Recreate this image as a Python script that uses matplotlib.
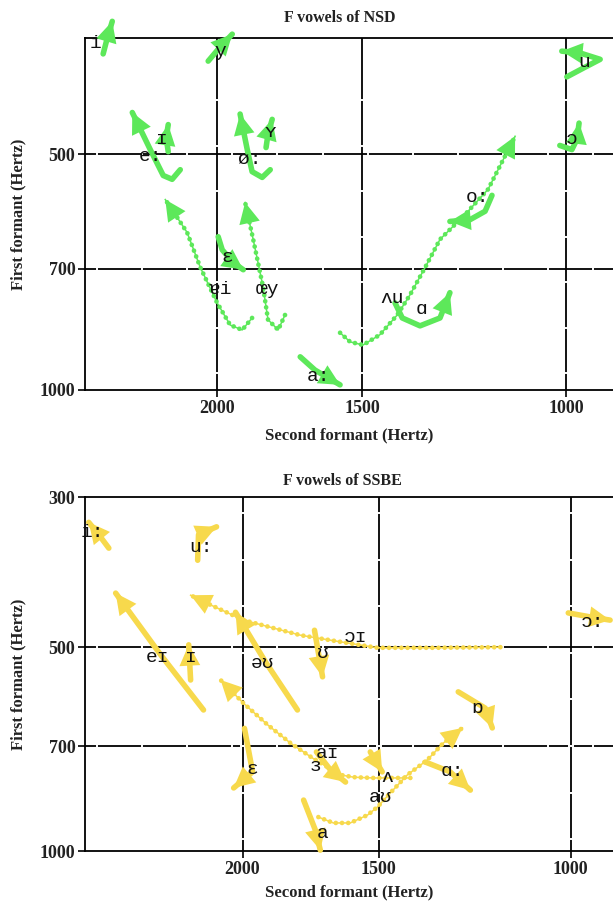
import matplotlib
matplotlib.use("Agg")
import matplotlib.pyplot as plt
import matplotlib.transforms as mtransforms
from matplotlib.ticker import NullLocator
import numpy as np

# ---------------------------------------------------------------------------
# Formant tracks (F2, F1 in Hz), one list pair per vowel
# ---------------------------------------------------------------------------
F2_TICKS = [2000, 1500, 1000]
NSD_F1_TICKS = [500, 700, 1000]
SSBE_F1_TICKS = [300, 500, 700, 1000]

# NSD ------------------------------------------------------------------------
nsd_i_f2, nsd_i_f1 = [2508, 2490, 2463], [372, 357, 338]
nsd_y_f2, nsd_y_f1 = [2036, 1996, 1941], [380, 367, 351]
nsd_u_f2, nsd_u_f1 = [999, 964, 935, 973, 1009], [398, 387, 378, 371, 369]
nsd_o_open_f2, nsd_o_open_f1 = [1013, 989, 979, 975], [487, 493, 478, 456]
nsd_e_f2, nsd_e_f1 = [2152, 2187, 2226, 2284, 2367], [523, 538, 532, 493, 442]
nsd_I_f2, nsd_I_f1 = [2204, 2213, 2204], [496, 476, 458]
nsd_oe_f2, nsd_oe_f1 = [1800, 1829, 1866, 1884, 1911], [523, 535, 526, 493, 444]
nsd_Y_f2, nsd_Y_f1 = [1815, 1808, 1793], [490, 471, 451]
nsd_ai_f2 = [1866, 1903, 1949, 2000, 2069, 2123, 2217]
nsd_ai_f1 = [809, 838, 826, 774, 696, 629, 571]
nsd_oey_f2 = [1748, 1772, 1808, 1826, 1862, 1892]
nsd_oey_f1 = [802, 838, 813, 738, 642, 576]
nsd_eps_f2, nsd_eps_f1 = [1996, 1980, 1938, 1899], [637, 662, 687, 702]
nsd_au_f2 = [1567, 1536, 1497, 1448, 1399, 1364, 1324, 1285, 1223, 1168, 1107]
nsd_au_f1 = [845, 868, 876, 850, 802, 756, 698, 642, 597, 554, 474]
nsd_oo_f2, nsd_oo_f1 = [1159, 1175, 1211, 1260], [564, 591, 606, 609]
nsd_A_f2, nsd_A_f1 = [1405, 1385, 1337, 1285, 1260], [774, 809, 828, 809, 751]
nsd_a_f2, nsd_a_f1 = [1696, 1647, 1567], [907, 943, 985]

nsd_labels = ["i", "y", "u", "ɔ", "e:", "ɪ", "ø:", "ʏ", "ɐi", "œy", "ɛ",
              "ʌu", "o:", "ɑ", "a:"]
nsd_label_f2 = [2545, 1988, 966, 989, 2284, 2231, 1873, 1800, 1988, 1811,
                1961, 1413, 1194, 1332, 1637]
nsd_label_f1 = [361, 369, 381, 479, 503, 478, 507, 469, 745, 745, 678, 765,
                568, 790, 962]

# SSBE -----------------------------------------------------------------------
ssbe_i_f2, ssbe_i_f1 = [2653, 2710, 2768], [357, 341, 327]
ssbe_u_f2, ssbe_u_f1 = [2199, 2195, 2113], [372, 341, 332]
ssbe_ei_f2, ssbe_ei_f1 = [2172, 2378, 2615], [619, 513, 416]
ssbe_I_f2, ssbe_I_f1 = [2232, 2241], [559, 496]
ssbe_ou_f2, ssbe_ou_f1 = [1781, 1905, 2030], [619, 526, 444]
ssbe_U_f2, ssbe_U_f1 = [1718, 1689], [472, 553]
ssbe_oi_f2 = [1160, 1337, 1504, 1626, 1770, 1996, 2140, 2232]
ssbe_oi_f1 = [500, 501, 501, 491, 480, 456, 433, 419]
ssbe_ai_f2 = [1403, 1517, 1582, 1626, 1725, 1807, 1897, 1996, 2095]
ssbe_ai_f1 = [780, 780, 778, 772, 729, 693, 651, 605, 559]
ssbe_er_f2, ssbe_er_f1 = [1711, 1661, 1609], [714, 759, 791]
ssbe_V_f2, ssbe_V_f1 = [1527, 1489], [714, 764]
ssbe_au_f2 = [1704, 1651, 1593, 1536, 1504, 1464, 1412, 1354, 1309, 1257]
ssbe_au_f1 = [891, 909, 909, 885, 861, 821, 772, 734, 693, 658]
ssbe_Q_f2, ssbe_Q_f1 = [1268, 1198, 1180], [582, 615, 658]
ssbe_A_f2, ssbe_A_f1 = [1359, 1290, 1236], [739, 764, 813]
ssbe_eps_f2, ssbe_eps_f1 = [1992, 1958, 2038], [659, 764, 807]
ssbe_a_f2, ssbe_a_f1 = [1758, 1715, 1697], [841, 931, 997]
ssbe_O_f2, ssbe_O_f1 = [1005, 960, 920], [445, 451, 456]

ssbe_labels = ["i:", "u:", "eɪ", "ɪ", "əʊ", "ʊ", "ɔɪ", "aɪ", "ɜ", "ʌ", "aʊ",
               "ɒ", "ɑ:", "ɛ", "a", "ɔ:"]
ssbe_label_f2 = [2745, 2185, 2393, 2232, 1917, 1689, 1576, 1672, 1715, 1473,
                 1495, 1218, 1284, 1958, 1689, 956]
ssbe_label_f1 = [339, 356, 517, 517, 528, 510, 483, 717, 751, 778, 835, 615,
                 764, 759, 941, 459]

nsd_tracks = [
    (nsd_i_f2, nsd_i_f1), (nsd_y_f2, nsd_y_f1), (nsd_u_f2, nsd_u_f1),
    (nsd_o_open_f2, nsd_o_open_f1), (nsd_e_f2, nsd_e_f1), (nsd_I_f2, nsd_I_f1),
    (nsd_oe_f2, nsd_oe_f1), (nsd_Y_f2, nsd_Y_f1), (nsd_ai_f2, nsd_ai_f1),
    (nsd_oey_f2, nsd_oey_f1), (nsd_eps_f2, nsd_eps_f1), (nsd_au_f2, nsd_au_f1),
    (nsd_oo_f2, nsd_oo_f1), (nsd_A_f2, nsd_A_f1), (nsd_a_f2, nsd_a_f1),
]
ssbe_tracks = [
    (ssbe_i_f2, ssbe_i_f1), (ssbe_u_f2, ssbe_u_f1), (ssbe_ei_f2, ssbe_ei_f1),
    (ssbe_I_f2, ssbe_I_f1), (ssbe_ou_f2, ssbe_ou_f1), (ssbe_U_f2, ssbe_U_f1),
    (ssbe_oi_f2, ssbe_oi_f1), (ssbe_ai_f2, ssbe_ai_f1), (ssbe_er_f2, ssbe_er_f1),
    (ssbe_V_f2, ssbe_V_f1), (ssbe_au_f2, ssbe_au_f1), (ssbe_Q_f2, ssbe_Q_f1),
    (ssbe_A_f2, ssbe_A_f1), (ssbe_eps_f2, ssbe_eps_f1), (ssbe_a_f2, ssbe_a_f1),
    (ssbe_O_f2, ssbe_O_f1),
]

# ---------------------------------------------------------------------------
# Styling
# ---------------------------------------------------------------------------
GREEN = "#5DE85A"
YELLOW = "#F7D94C"
SERIF = ["Liberation Serif", "DejaVu Serif"]
MONO = ["Liberation Mono", "DejaVu Sans Mono"]
NSD_DOTTED = {"ɐi", "œy", "ʌu"}
SSBE_DOTTED = {"ɔɪ", "aɪ", "aʊ"}

plt.rcParams["font.family"] = SERIF

W, H = 613, 901
fig = plt.figure(figsize=(W / 100, H / 100), dpi=100)


def px_rect(left, top, right, bottom):
    return [left / W, 1 - bottom / H, (right - left) / W, (bottom - top) / H]


def setup_axes(rect, xlim, ylim, yticks):
    ax = fig.add_axes(rect)
    ax.set_xscale("log")
    ax.set_yscale("log")
    ax.set_xlim(*xlim)
    ax.set_ylim(*ylim)
    ax.set_xticks(F2_TICKS)
    ax.set_xticklabels([str(t) for t in F2_TICKS])
    ax.set_yticks(yticks)
    ax.set_yticklabels([str(t) for t in yticks])
    ax.xaxis.set_minor_locator(NullLocator())
    ax.yaxis.set_minor_locator(NullLocator())
    ax.tick_params(direction="out", length=5, width=1.2, pad=2,
                   labelsize=13, colors="black")
    for lab in ax.get_xticklabels() + ax.get_yticklabels():
        lab.set_fontweight("bold")
        lab.set_color("#222222")
    for sp in ax.spines.values():
        sp.set_linewidth(1.3)
    for v in F2_TICKS:
        ax.axvline(v, color="black", lw=1.3, zorder=1)
    for v in yticks:
        if min(ylim) < v < max(ylim):
            ax.axhline(v, color="black", lw=1.3, zorder=1)
    return ax


def white_marks(ax, x_fracs, y_fracs, yticks, ylim):
    tv = mtransforms.blended_transform_factory(ax.transData, ax.transAxes)
    for v in F2_TICKS:
        ax.plot([v] * len(y_fracs), y_fracs, transform=tv, ls="none",
                marker="_", ms=5, mew=1.4, color="white", zorder=2)
    th = mtransforms.blended_transform_factory(ax.transAxes, ax.transData)
    for v in yticks:
        if min(ylim) < v < max(ylim):
            ax.plot(x_fracs, [v] * len(x_fracs), transform=th, ls="none",
                    marker="|", ms=5, mew=1.4, color="white", zorder=2)


def draw_tracks(ax, tracks, labels, lab_f2, lab_f1, color, dotted):
    for (f2, f1), lab in zip(tracks, labels):
        if lab in dotted:
            ax.plot(f2, f1, color=color, lw=1.1, clip_on=False, zorder=3)
            ax.plot(f2, f1, color=color, lw=3.4, ls=(0, (0.01, 1.3)),
                    dash_capstyle="round", clip_on=False, zorder=3)
        else:
            ax.plot(f2, f1, color=color, lw=4.0, solid_capstyle="round",
                    solid_joinstyle="round", clip_on=False, zorder=3)
        ax.annotate("", xy=(f2[-1], f1[-1]), xytext=(f2[-2], f1[-2]),
                    arrowprops=dict(arrowstyle="-|>,head_length=1.0,head_width=0.5",
                                    mutation_scale=15, color=color, lw=0,
                                    shrinkA=0, shrinkB=0),
                    annotation_clip=False, zorder=3)
    for lab, x, y in zip(labels, lab_f2, lab_f1):
        ax.text(x, y, lab, family=MONO, fontsize=14, ha="center",
                va="center", color="#111111", zorder=4, clip_on=False)


# ---------------------------------------------------------------------------
# Top: NSD
# ---------------------------------------------------------------------------
NSD_XLIM, NSD_YLIM = (2600, 900), (1000, 355)
ax1 = setup_axes(px_rect(85, 38, 619.4, 390), NSD_XLIM, NSD_YLIM, NSD_F1_TICKS)
white_marks(ax1, (np.arange(97, 613, 45.1) - 85) / 534.4,
            (390 - np.arange(100, 380, 45.5)) / 352, NSD_F1_TICKS, NSD_YLIM)
draw_tracks(ax1, nsd_tracks, nsd_labels, nsd_label_f2, nsd_label_f1,
            GREEN, NSD_DOTTED)
fig.text(340 / W, 1 - 18 / H, "F vowels of NSD", ha="center", va="center",
         fontsize=11.5, fontweight="bold", color="#222222")
fig.text(349 / W, 1 - 435 / H, "Second formant (Hertz)", ha="center",
         va="center", fontsize=12, fontweight="bold", color="#222222")
fig.text(18 / W, 1 - 214 / H, "First formant (Hertz)", ha="center",
         va="center", rotation=90, fontsize=12, fontweight="bold",
         color="#222222")

# ---------------------------------------------------------------------------
# Bottom: SSBE
# ---------------------------------------------------------------------------
SSBE_XLIM, SSBE_YLIM = (2790, 900), (1000, 300)
ax2 = setup_axes(px_rect(85, 497, 620.5, 851), SSBE_XLIM, SSBE_YLIM,
                 SSBE_F1_TICKS)
white_marks(ax2, (np.arange(97, 613, 45.1) - 85) / 535.5,
            (851 - np.arange(513, 845, 46.6)) / 354, SSBE_F1_TICKS, SSBE_YLIM)
draw_tracks(ax2, ssbe_tracks, ssbe_labels, ssbe_label_f2, ssbe_label_f1,
            YELLOW, SSBE_DOTTED)
fig.text(342 / W, 1 - 481 / H, "F vowels of SSBE", ha="center", va="center",
         fontsize=11.5, fontweight="bold", color="#222222")
fig.text(349 / W, 1 - 892 / H, "Second formant (Hertz)", ha="center",
         va="center", fontsize=12, fontweight="bold", color="#222222")
fig.text(18 / W, 1 - 674 / H, "First formant (Hertz)", ha="center",
         va="center", rotation=90, fontsize=12, fontweight="bold",
         color="#222222")

fig.savefig("out.png", dpi=100)
